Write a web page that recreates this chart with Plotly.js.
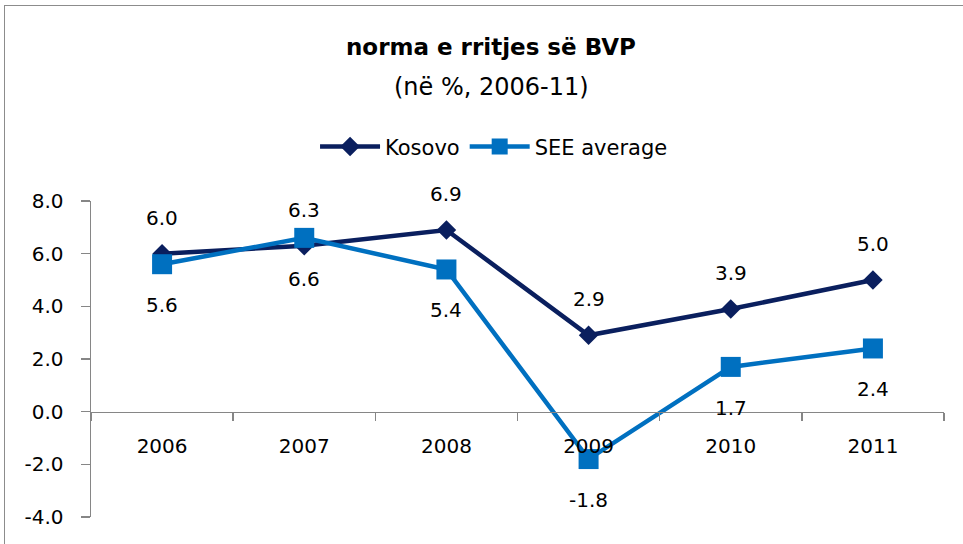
<!DOCTYPE html>
<html>
<head>
<meta charset="utf-8">
<script src="https://cdn.plot.ly/plotly-3.0.1.min.js"></script>
<style>
  html, body { margin: 0; padding: 0; background: #fff; }
  #wrap { position: relative; width: 963px; height: 544px; overflow: hidden; }
  #chart { width: 963px; height: 544px; }
  #frame { position: absolute; left: 4px; top: 5px; width: 970px; height: 600px;
           border: 1.5px solid #8c8c8c; box-sizing: border-box; pointer-events: none; }
</style>
</head>
<body>
<div id="wrap">
  <div id="chart"></div>
  <div id="frame"></div>
</div>
<script>
const years = ["2006", "2007", "2008", "2009", "2010", "2011"];
const kosovo = [6.0, 6.3, 6.9, 2.9, 3.9, 5.0];
const seeAverage = [5.6, 6.6, 5.4, -1.8, 1.7, 2.4];
const yTicks = [-4, -2, 0, 2, 4, 6, 8];
const yTickLabels = ["-4.0", "-2.0", "0.0", "2.0", "4.0", "6.0", "8.0"];

const FONT = "'DejaVu Sans', 'Liberation Sans', sans-serif";
const navy = "#0a1f5e";
const blue = "#0070c0";
const axisGray = "#868686";

const traces = [
  {
    x: years, y: kosovo, name: "Kosovo", type: "scatter", mode: "lines+markers",
    line: { color: navy, width: 4.5 },
    marker: { symbol: "diamond", size: 15, color: navy }
  },
  {
    x: years, y: seeAverage, name: "SEE average", type: "scatter", mode: "lines+markers",
    line: { color: blue, width: 4.5 },
    marker: { symbol: "square", size: 20, color: blue }
  }
];

const annotations = [];
years.forEach((yr, i) => {
  annotations.push({ x: i, y: kosovo[i], xref: "x", yref: "y", text: kosovo[i].toFixed(1),
    showarrow: false, yshift: 36, font: { family: FONT, size: 20, color: "#000" } });
  annotations.push({ x: i, y: seeAverage[i], xref: "x", yref: "y", text: seeAverage[i].toFixed(1),
    showarrow: false, yshift: -41, font: { family: FONT, size: 20, color: "#000" } });
});
annotations.push({
  xref: "paper", yref: "paper", x: 0.469, y: 1, yshift: 154, xanchor: "center", yanchor: "middle",
  text: "<b>norma e rritjes së BVP</b>", showarrow: false,
  font: { family: FONT, size: 23, color: "#000" }
});
annotations.push({
  xref: "paper", yref: "paper", x: 0.469, y: 1, yshift: 114, xanchor: "center", yanchor: "middle",
  text: "(në %, 2006-11)", showarrow: false,
  font: { family: FONT, size: 24, color: "#000" }
});

const layout = {
  width: 963, height: 544,
  margin: { l: 91, r: 19, t: 201, b: 27 },
  paper_bgcolor: "#fff", plot_bgcolor: "#fff",
  font: { family: FONT, size: 20, color: "#000" },
  showlegend: true,
  legend: {
    orientation: "h", x: 0.4725, xanchor: "center", y: 1.171, yanchor: "middle",
    font: { family: FONT, size: 21, color: "#000" },
    bgcolor: "rgba(0,0,0,0)",
    itemwidth: 60
  },
  xaxis: {
    type: "category", range: [-0.5, 5.5],
    anchor: "free", position: 1 / 3,
    showline: true, linecolor: axisGray, linewidth: 1.5,
    ticks: "outside", tickson: "boundaries", ticklen: 8, tickcolor: axisGray, tickwidth: 1.5,
    showgrid: false, zeroline: false,
    ticklabelstandoff: 16,
    tickfont: { family: FONT, size: 20, color: "#000" }
  },
  yaxis: {
    range: [-4, 8], tickmode: "array", tickvals: yTicks, ticktext: yTickLabels,
    showline: true, linecolor: axisGray, linewidth: 1.5,
    ticks: "outside", ticklen: 9, tickcolor: axisGray, tickwidth: 1.5,
    showgrid: false, zeroline: false,
    ticklabelstandoff: 13,
    tickfont: { family: FONT, size: 20, color: "#000" }
  },
  annotations: annotations
};

Plotly.newPlot("chart", traces, layout, { displayModeBar: false, staticPlot: true });
</script>
</body>
</html>
